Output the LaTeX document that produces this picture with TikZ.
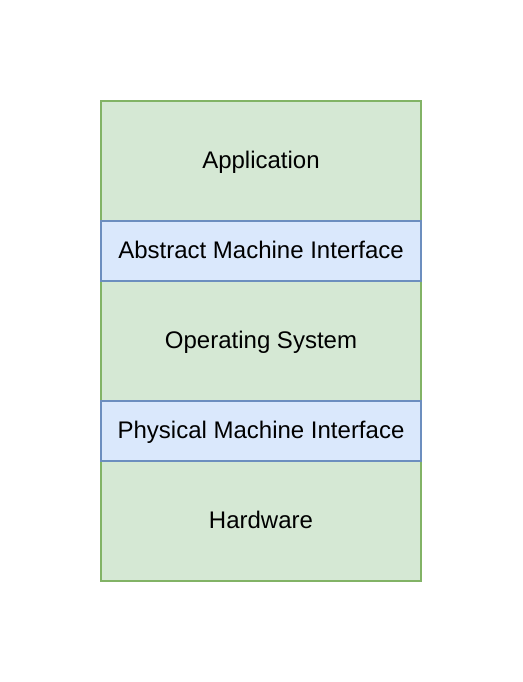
\documentclass[tikz,border=0pt]{standalone}
\usepackage{fontspec}
\setmainfont{Liberation Sans}
\usepackage{tikz}
\usetikzlibrary{positioning}
\definecolor{verdecapa}{HTML}{D5E8D4}
\definecolor{verdeborde}{HTML}{82B366}
\definecolor{azulcapa}{HTML}{DAE8FC}
\definecolor{azulborde}{HTML}{6C8EBF}

\begin{document}
\begin{tikzpicture}[x=1pt, y=1pt,
      capa/.style={draw=verdeborde, line width=1.5pt, fill=verdecapa,
                   minimum width=320pt, minimum height=120pt,
                   inner sep=0pt, outer sep=0pt,
                   text height=19pt, text depth=5pt,
                   font=\fontsize{24}{28}\selectfont},
      iface/.style={capa, draw=azulborde, fill=azulcapa,
                    minimum height=60pt}]
    \useasboundingbox (0,0) rectangle (522,-682);
    % Capas
    \node[capa] (app) at (261,-161) {Application};
    \node[capa] (os)  at (261,-341) {Operating System};
    \node[capa] (hw)  at (261,-521) {Hardware};
    % Interfaces
    \node[iface, below=0pt of app] (ami) {Abstract Machine Interface};
    \node[iface, below=0pt of os]  (pmi) {Physical Machine Interface};
  \end{tikzpicture}
\end{document}
